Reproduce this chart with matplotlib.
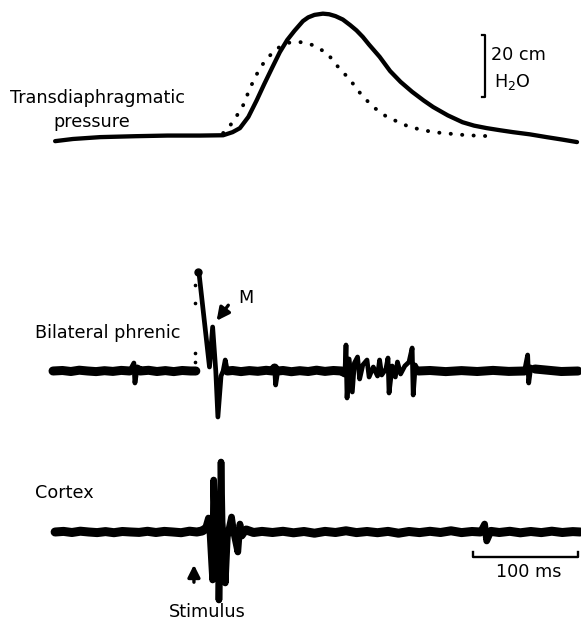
import numpy as np
import matplotlib
matplotlib.use('Agg')
import matplotlib.pyplot as plt

# time in ms from the stimulus
# transdiaphragmatic pressure, cm H2O (solid and dotted trace)
p_t = [-137, -120, -94, -60, -30, 1, 23, 32, 39, 47, 55, 62, 70, 77, 84, 91, 99, 104,
       110, 118, 124, 130, 137, 144, 150, 156, 162, 172, 182, 192, 203, 214, 223, 237,
       251, 262, 274, 287, 299, 315, 331, 346, 360]
p_val = [-1.3, -0.6, 0, 0.3, 0.5, 0.5, 0.6, 1.6, 2.9, 6.5, 11.9, 17.0, 22.6, 27.4, 31.3,
         34.3, 37.4, 38.6, 39.4, 39.8, 39.6, 39.0, 37.9, 36.1, 34.4, 32.3, 29.8, 25.9,
         21.3, 17.8, 14.6, 11.8, 9.7, 7.0, 4.8, 3.7, 2.9, 2.2, 1.6, 0.9, 0, -0.8, -1.6]
dot_t = [23, 30, 41, 49, 58, 66, 75, 87, 98, 108, 122, 131, 144, 155, 166, 179, 201,
         223, 255, 277]
dot_val = [1.3, 3.9, 9.4, 16.1, 22.3, 25.8, 28.7, 30.6, 30.6, 29.7, 27.1, 23.2, 18.4,
           13.5, 9.7, 6.5, 3.2, 1.6, 0.6, 0.3]

# bilateral phrenic, arbitrary units
nan = np.nan
phr_t = [-139, -130, -122, -114, -106, -98, -90, -82, -74, -66, -62, -61, -59, -56, -48,
         -40, -32, -24, -16, -8, -3, nan,
         -1, 0, 10, 13, 16, 18, 21, 23, 25, 27, 32, 40, 48, 56, 64, 70, 72, 73, 75, 80,
         88, 96, 104, 112, 120, 128, 136,
         139, 140, 141, 143, 146, 148, 151, 153, 156, 160, 162, 166, 170, 172, 174, 178,
         180, 181, 184, 187, 189, 192, 196, 200, 203, 204, 206, 209,
         220, 235, 250, 265, 280, 295, 310, 313, 314, 316, 320, 330, 345, 361]
phr_val = [0, 0.5, -0.5, 0.8, 0, -0.6, 0.3, -0.4, 0.6, 0, 8, -12, 2, 0, 0.7, -0.5, 0.4,
           -0.6, 0.5, 0, 0, nan,
           99, 98, 4, 44, 0, -46, -5, 0, 11, 0, 0.5, -0.6, 0.4, -0.3, 0.7, 0, 3, -14, 0,
           0.5, -0.7, 0.3, -0.5, 0.8, -0.4, 0.5, 0,
           -2, 26, -27, 12, -21, 8, 14, -8, 6, 11, -6, 4, -5, 11, -4, 2,
           13, -22, 5, -6, 9, -3, 5, 9, 23, -24, 6, 0,
           0.5, -0.6, 0.4, -0.5, 0.6, -0.4, 0, 16, -12, 4, 2, 1, -0.5, 0]
artifact_t = [-4, -4, -4, -4]
artifact_val = [86, 68, 18, 9]

# cortex, arbitrary units
ctx_t = [-137, -129, -121, -113, -105, -97, -89, -81, -73, -65, -57, -49, -41, -33, -25,
         -17, -9, -2, 3, 6, 9, 10, 12, 13, 14, 16, 18, 19, 20, 21, 22, 24, 25, 27, 29,
         31, 33, 35, 37, 39, 41, 45, 52, 60, 70, 80, 90, 100, 110, 120, 130, 140, 150,
         160, 170, 180, 190, 200, 210, 220, 230, 240, 250, 260, 268, 272, 274, 278, 286,
         296, 306, 316, 326, 336, 346, 356, 363]
ctx_val = [0, 0.6, -0.5, 0.8, 0, -0.6, 0.4, -0.7, 0.5, 0, -0.4, 0.7, -0.5, 0.6, 0, -0.7,
           0.8, 0, 1, 3, 14, 8, -30, -48, 52, -20, 12, -68, -20, 70, 10, -20, -51, -5, 5,
           15, 0, -10, -20, 8, -4, 2, -0.5, 0.6, -0.5, 0.7, -0.8, 0.5, -1.2, 0.6, -0.5,
           1.2, -0.6, 0.5, -0.7, 0.6, -1.2, 0.5, -0.6, 0.7, -0.5, 1.2, -0.6, 0.5, 0, 8, -9,
           0.6, -0.5, 0.7, -0.8, 0.5, -0.6, 0.8, -0.5, 0.4, 0]

W, H = 581, 620
fig = plt.figure(figsize=(W / 100, H / 100), dpi=100)
fig.patch.set_facecolor('white')
tlim = (-189.5, 363.8)


def band(top, bottom):
    # axes spanning pixel rows top..bottom
    return fig.add_axes([0, 1 - bottom / H, 1, (bottom - top) / H])


def px(x, y):
    return x / W, 1 - y / H


def trace(ax, t, v, base_lw=6.5, spike_lw=3.4):
    # thick noise band along the baseline, thinner strokes for the spikes
    t = np.asarray(t, dtype=float)
    v = np.asarray(v, dtype=float)
    quiet = np.where(np.abs(v) <= 3, v, np.nan)
    ax.plot(t, v, color='black', lw=spike_lw, solid_capstyle='round',
            solid_joinstyle='round')
    ax.plot(t, quiet, color='black', lw=base_lw, solid_capstyle='round',
            solid_joinstyle='round')


ax_p = band(0, 170)
ax_p.plot(p_t, p_val, color='black', lw=3.1, solid_capstyle='round')
ax_p.plot(dot_t, dot_val, color='black', lw=2.8, linestyle=(0, (0.05, 2.9)),
          dash_capstyle='round')
ax_p.plot([269.5, 272.4, 272.4, 269.5], [32.9, 32.9, 12.9, 12.9], color='black', lw=1.6)
ax_p.set_xlim(tlim)
ax_p.set_ylim(-10.6, 44.2)

ax_n = band(250, 440)
trace(ax_n, phr_t, phr_val)
ax_n.plot(artifact_t, artifact_val, 'o', color='black', ms=1.6)
ax_n.plot([-1], [99], 'o', color='black', ms=5)
ax_n.annotate('', xy=(15.2, 48), xytext=(29.5, 68),
              arrowprops=dict(arrowstyle='-|>', color='black', lw=2.4, mutation_scale=19))
ax_n.set_xlim(tlim)
ax_n.set_ylim(-69, 121)

ax_c = band(440, 620)
trace(ax_c, ctx_t, ctx_val, spike_lw=4.8)
ax_c.plot([261, 261, 361, 361], [-20, -25, -25, -20], color='black', lw=1.7)
ax_c.annotate('', xy=(-4.8, -30), xytext=(-4.8, -53),
              arrowprops=dict(arrowstyle='-|>', color='black', lw=2.4, mutation_scale=18))
ax_c.set_xlim(tlim)
ax_c.set_ylim(-88, 92)

for ax in (ax_p, ax_n, ax_c):
    ax.set_axis_off()
    ax.patch.set_alpha(0)

font = dict(family='DejaVu Sans', size=12.7, color='black')
fig.text(*px(10, 103), 'Transdiaphragmatic', ha='left', va='baseline', **font)
fig.text(*px(53, 127), 'pressure', ha='left', va='baseline', **font)
fig.text(*px(491, 60), '20 cm', ha='left', va='baseline', **font)
fig.text(*px(494, 87), 'H$_2$O', ha='left', va='baseline', **font)
fig.text(*px(35, 338), 'Bilateral phrenic', ha='left', va='baseline', **font)
fig.text(*px(238, 303), 'M', ha='left', va='baseline', **font)
fig.text(*px(35, 498), 'Cortex', ha='left', va='baseline', **font)
fig.text(*px(529, 577), '100 ms', ha='center', va='baseline', **font)
fig.text(*px(207, 617), 'Stimulus', ha='center', va='baseline', **font)

fig.savefig('out.png', dpi=100, facecolor='white')
